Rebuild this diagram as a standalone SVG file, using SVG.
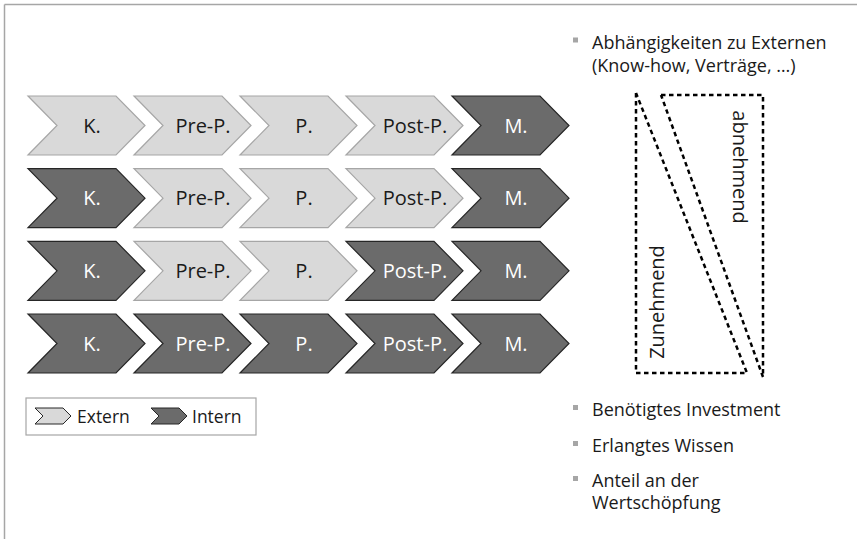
<svg xmlns="http://www.w3.org/2000/svg" xmlns:xlink="http://www.w3.org/1999/xlink" width="857" height="539" viewBox="0 0 857 539">
<style>
  .lt { fill: #d9d9d9; stroke: #a6a6a6; stroke-width: 1.2; }
  .dk { fill: #6b6b6b; stroke: #262626; stroke-width: 1.2; }
  .t { font-family: "Open Sans", "DejaVu Sans", sans-serif; font-size: 20px; text-anchor: middle; }
  .tl { fill: #1a1a1a; }
  .td { fill: #ffffff; }
  .side { font-family: "Open Sans", "DejaVu Sans", sans-serif; font-size: 18px; fill: #1a1a1a; }
  .leg { font-family: "Open Sans", "DejaVu Sans", sans-serif; font-size: 17.5px; fill: #1a1a1a; }
  .rot { font-family: "Open Sans", "DejaVu Sans", sans-serif; font-size: 20px; fill: #1a1a1a; text-anchor: middle; }
  .bul { fill: #a6a6a6; }
  .dash { fill: none; stroke: #000; stroke-width: 2.5; stroke-dasharray: 4.5 3.5; }
  .frame { stroke: #a6a6a6; stroke-width: 1.5; fill: none; }
</style>
<defs>
  <path id="chev" d="M0,0 L88,0 L117,29.5 L88,59 L0,59 L29,29.5 Z"/>
  <path id="mini" d="M0,0 L28,0 L36,8 L28,16 L0,16 L8,8 Z"/>
</defs>
<rect width="857" height="539" fill="#fff"/>
<g id="frame">
  <line class="frame" x1="4.5" y1="4.5" x2="857" y2="4.5"/>
  <line class="frame" x1="4.5" y1="4.5" x2="4.5" y2="539"/>
</g>

<g id="row1">
  <g id="r1c1" transform="translate(28,96)"><use xlink:href="#chev" class="lt"/><text class="t tl" x="64" y="36.5">K.</text></g>
  <g id="r1c2" transform="translate(134,96)"><use xlink:href="#chev" class="lt"/><text class="t tl" x="69" y="36.5">Pre-P.</text></g>
  <g id="r1c3" transform="translate(240,96)"><use xlink:href="#chev" class="lt"/><text class="t tl" x="64" y="36.5">P.</text></g>
  <g id="r1c4" transform="translate(346,96)"><use xlink:href="#chev" class="lt"/><text class="t tl" x="69" y="36.5">Post-P.</text></g>
  <g id="r1c5" transform="translate(452,96)"><use xlink:href="#chev" class="dk"/><text class="t td" x="64" y="36.5">M.</text></g>
</g>
<g id="row2">
  <g id="r2c1" transform="translate(28,168.7)"><use xlink:href="#chev" class="dk"/><text class="t td" x="64" y="36.5">K.</text></g>
  <g id="r2c2" transform="translate(134,168.7)"><use xlink:href="#chev" class="lt"/><text class="t tl" x="69" y="36.5">Pre-P.</text></g>
  <g id="r2c3" transform="translate(240,168.7)"><use xlink:href="#chev" class="lt"/><text class="t tl" x="64" y="36.5">P.</text></g>
  <g id="r2c4" transform="translate(346,168.7)"><use xlink:href="#chev" class="lt"/><text class="t tl" x="69" y="36.5">Post-P.</text></g>
  <g id="r2c5" transform="translate(452,168.7)"><use xlink:href="#chev" class="dk"/><text class="t td" x="64" y="36.5">M.</text></g>
</g>
<g id="row3">
  <g id="r3c1" transform="translate(28,241.3)"><use xlink:href="#chev" class="dk"/><text class="t td" x="64" y="36.5">K.</text></g>
  <g id="r3c2" transform="translate(134,241.3)"><use xlink:href="#chev" class="lt"/><text class="t tl" x="69" y="36.5">Pre-P.</text></g>
  <g id="r3c3" transform="translate(240,241.3)"><use xlink:href="#chev" class="lt"/><text class="t tl" x="64" y="36.5">P.</text></g>
  <g id="r3c4" transform="translate(346,241.3)"><use xlink:href="#chev" class="dk"/><text class="t td" x="69" y="36.5">Post-P.</text></g>
  <g id="r3c5" transform="translate(452,241.3)"><use xlink:href="#chev" class="dk"/><text class="t td" x="64" y="36.5">M.</text></g>
</g>
<g id="row4">
  <g id="r4c1" transform="translate(28,314)"><use xlink:href="#chev" class="dk"/><text class="t td" x="64" y="36.5">K.</text></g>
  <g id="r4c2" transform="translate(134,314)"><use xlink:href="#chev" class="dk"/><text class="t td" x="69" y="36.5">Pre-P.</text></g>
  <g id="r4c3" transform="translate(240,314)"><use xlink:href="#chev" class="dk"/><text class="t td" x="64" y="36.5">P.</text></g>
  <g id="r4c4" transform="translate(346,314)"><use xlink:href="#chev" class="dk"/><text class="t td" x="69" y="36.5">Post-P.</text></g>
  <g id="r4c5" transform="translate(452,314)"><use xlink:href="#chev" class="dk"/><text class="t td" x="64" y="36.5">M.</text></g>
</g>

<g id="legend">
  <rect x="26" y="398" width="230" height="37" fill="#fff" stroke="#a6a6a6" stroke-width="1.2"/>
  <use xlink:href="#mini" x="35" y="408" fill="#d9d9d9" stroke="#262626" stroke-width="1"/>
  <text class="leg" x="77" y="423">Extern</text>
  <use xlink:href="#mini" x="151" y="408" fill="#6b6b6b" stroke="#262626" stroke-width="1"/>
  <text class="leg" x="192" y="423">Intern</text>
</g>

<g id="top-bullet">
  <rect class="bul" x="573" y="37.5" width="5" height="5"/>
  <text class="side"><tspan x="592" y="48.5">Abhängigkeiten zu Externen</tspan><tspan x="592" y="72">(Know-how, Verträge, …)</tspan></text>
</g>

<g id="connectors">
  <polyline class="dash" points="636,93 636,373 747,373 636,93"/>
  <polyline class="dash" points="661,95 763,95 763,377 661,95"/>
</g>
<g id="labels-rot">
  <text class="rot" transform="translate(733,167) rotate(90)">abnehmend</text>
  <text class="rot" transform="translate(664,302) rotate(-90)">Zunehmend</text>
</g>

<g id="bottom-bullets">
  <rect class="bul" x="573" y="405" width="5" height="5"/>
  <text class="side" x="592" y="416">Benötigtes Investment</text>
  <rect class="bul" x="573" y="441" width="5" height="5"/>
  <text class="side" x="592" y="452">Erlangtes Wissen</text>
  <rect class="bul" x="573" y="476" width="5" height="5"/>
  <text class="side"><tspan x="592" y="487">Anteil an der</tspan><tspan x="592" y="509">Wertschöpfung</tspan></text>
</g>
</svg>
